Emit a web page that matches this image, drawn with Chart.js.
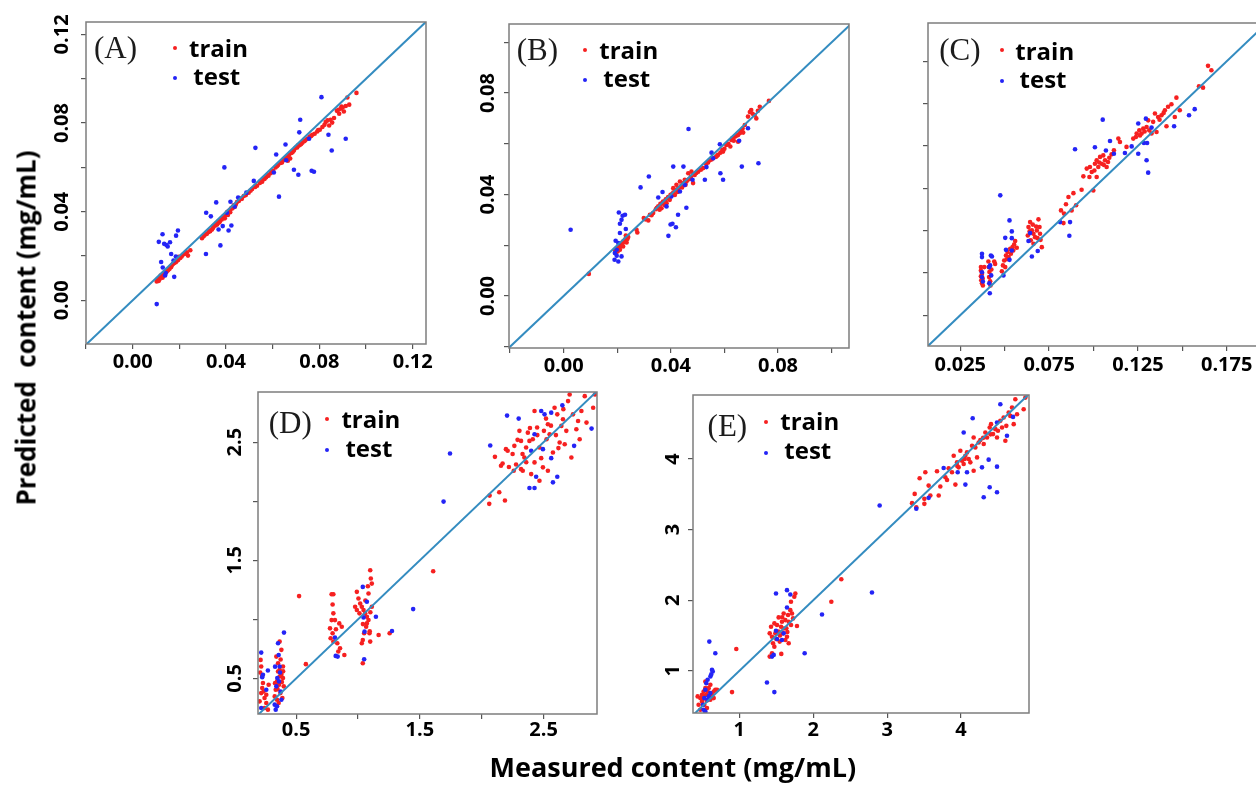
<!DOCTYPE html>
<html><head><meta charset="utf-8">
<script src="https://cdn.jsdelivr.net/npm/chart.js@4.4.1/dist/chart.umd.min.js"></script>
<style>
html,body{margin:0;padding:0;background:#fff}
body{width:1256px;height:787px;overflow:hidden;position:relative}
canvas{position:absolute}
.txt{position:absolute;white-space:pre;line-height:1;color:#000}
.plab{font-family:'Liberation Serif','Times New Roman',serif;font-size:31px;color:#1c1c1c}
.leg{font-family:'Open Sans',sans-serif;font-weight:700;font-size:24px}
.dot{position:absolute;width:4px;height:4px;border-radius:50%}
.title{font-family:'Open Sans',sans-serif;font-weight:700;font-size:26px}
#xtitle{font-size:27px}
</style></head><body>
<script>
// ---------------- data ----------------
const panelNames = ['(A)','(B)','(C)','(D)','(E)'];
const seriesNames = ['train','test'];
const xTitle = 'Measured content (mg/mL)';
const yTitle = 'Predicted  content (mg/mL)';

const xTicksA=[0,0.04,0.08,0.12], yTicksA=[0,0.04,0.08,0.12];
const xTicksB=[0,0.04,0.08], yTicksB=[0,0.04,0.08];
const xTicksC=[0.025,0.075,0.125,0.175], yTicksC=[];
const xTicksD=[0.5,1.5,2.5], yTicksD=[0.5,1.5,2.5];
const xTicksE=[1,2,3,4], yTicksE=[1,2,3,4];

const xRangeA=[-0.02,0.1257], yRangeA=[-0.0197,0.1256];
const xRangeB=[-0.0204,0.1065], yRangeB=[-0.0205,0.1072];
const xRangeC=[0.0068,0.1949], yRangeC=[0.0068,0.1976];
const xRangeD=[0.192,2.932], yRangeD=[0.199,2.925];
const xRangeE=[0.373,4.92], yRangeE=[0.403,4.907];

const trainA=[0.0103,0.0085,0.0115,0.0095,0.0125,0.0108,0.0135,0.0118,0.0146,0.013,0.0153,0.0138,0.0163,0.0153,0.0172,0.0164,0.0182,0.0176,0.0192,0.0186,0.0204,0.0191,0.0215,0.0206,0.0232,0.0217,0.0247,0.0226,0.0237,0.0202,
0.0108,0.0095,0.012,0.0112,0.0128,0.0102,0.014,0.0125,0.0158,0.0142,0.0168,0.0158,0.0178,0.0168,0.0188,0.0178,0.0198,0.0196,0.0112,0.0088,
0.0297,0.028,0.0311,0.0297,0.0325,0.0308,0.034,0.032,0.0347,0.0335,0.0358,0.0347,0.0368,0.0358,0.0378,0.0368,0.039,0.038,0.0401,0.0392,0.0411,0.0403,0.0421,0.0414,0.0433,0.0429,0.0447,0.0444,0.0462,0.0459,0.0476,0.0471,0.0497,0.0486,0.0512,0.0502,0.0533,0.0517,0.0555,0.0535,0.0572,0.0555,0.0591,0.0574,0.0612,0.06,0.0634,0.062,0.0655,0.0641,0.067,0.0656,0.0691,0.0676,0.0708,0.0698,0.0727,0.0711,0.0748,0.0729,0.077,0.0747,0.0791,0.0762,0.0813,0.0782,0.0827,0.0805,0.0842,0.0789,0.0863,0.0823,0.0885,0.0842,0.0892,0.0865,0.0913,0.0877,0.092,0.0915,0.0928,0.0883,0.0959,0.0936,
0.0362,0.0342,0.0372,0.0352,0.0385,0.0372,0.0395,0.0385,0.0405,0.0398,0.0415,0.0405,0.0425,0.0418,0.0395,0.037,0.0408,0.0385,0.0418,0.0398,0.0438,0.0422,0.0455,0.0448,0.0318,0.03,0.0332,0.0312,
0.0545,0.053,0.0565,0.0548,0.0582,0.0562,0.0602,0.0585,0.0622,0.061,0.0645,0.0632,0.066,0.0645,0.068,0.0665,0.0698,0.0688,0.0715,0.07,0.074,0.0722,0.0758,0.0738,0.078,0.0752,0.0802,0.077,0.0835,0.0812,0.0855,0.0802,0.0875,0.0855,0.09,0.087,0.0905,0.0852,0.0665,0.063,0.0675,0.064,
0.0118,0.0105,0.0132,0.0112,0.015,0.0135,0.0165,0.015,0.0185,0.0172,0.0195,0.0182,0.021,0.0198,0.0225,0.021,0.0305,0.029,0.0328,0.0315,0.0345,0.0328,0.0355,0.0338,0.0365,0.035,0.0375,0.036,0.0382,0.0365,0.0392,0.0378,0.0402,0.0388,0.0412,0.04,0.0428,0.0415,0.0442,0.0432,0.0468,0.0458,0.0485,0.0475,0.0505,0.0495,0.0525,0.0512,0.0548,0.0538,0.0562,0.055,0.0578,0.0566,0.0595,0.058,0.0618,0.0605,0.064,0.0622,0.0685,0.0668,0.0705,0.069,0.0722,0.0705,0.0735,0.0718,0.0765,0.0742,0.0795,0.0768,0.0822,0.0792,0.0848,0.0815,0.0882,0.086,0.0895,0.0875];
const testA=[0.0103,-0.0017,0.0112,0.0264,0.0128,0.0298,0.0135,0.0255,0.0145,0.025,0.016,0.0262,0.015,0.0243,0.0122,0.0173,0.0129,0.0148,0.0142,0.0123,0.0139,0.0112,0.0178,0.0106,0.0165,0.0209,0.0194,0.0315,0.0186,0.0292,0.0185,0.0198,0.0175,0.018,0.0314,0.0209,0.0315,0.0395,0.0335,0.0379,0.0358,0.0442,0.0393,0.06,0.0376,0.0248,0.0368,0.032,0.0386,0.0335,0.0411,0.0315,0.0423,0.0338,0.0419,0.0445,0.0404,0.0395,0.0437,0.0423,0.0452,0.0464,0.0487,0.0486,0.0519,0.0539,0.0526,0.0688,0.0605,0.0577,0.0615,0.0658,0.0627,0.0468,0.0655,0.0703,0.0658,0.0632,0.0691,0.0589,0.071,0.0567,0.0714,0.0758,0.0718,0.0815,0.0756,0.0729,0.0767,0.0585,0.0777,0.058,0.0839,0.0747,0.0853,0.0676,0.0809,0.0917,0.0913,0.0729];

const trainB=[0.0094,0.0087,0.0191,0.0182,0.0198,0.0189,0.0204,0.0195,0.021,0.0202,0.0216,0.0209,0.0222,0.0215,0.0229,0.0222,0.0235,0.0228,0.0241,0.0232,0.021,0.0182,0.0222,0.0195,0.0195,0.0169,0.0235,0.0211,0.0202,0.0176,0.0218,0.02,0.0232,0.0238,0.0272,0.0261,0.0275,0.025,0.0299,0.0307,0.0316,0.0298,0.0322,0.032,0.0334,0.0327,0.0344,0.0342,0.0353,0.0353,0.0361,0.0363,0.0371,0.0372,0.0381,0.0381,0.039,0.039,0.0399,0.0399,0.0409,0.0408,0.0419,0.0416,0.0429,0.0425,0.0439,0.0434,0.0448,0.0445,0.0458,0.0451,0.0468,0.046,0.0483,0.0445,0.0489,0.0477,0.0502,0.049,0.0521,0.0504,0.0539,0.0526,0.0558,0.0543,0.0576,0.0556,0.0595,0.0569,0.0607,0.0595,0.0626,0.0615,0.0639,0.0628,0.0651,0.0635,0.0663,0.0652,0.0676,0.0674,0.0688,0.0707,0.07,0.0733,0.0713,0.0713,0.0732,0.0746,0.0766,0.0769,0.0719,0.07,0.0622,0.0589,0.0651,0.0608,0.067,0.0644,0.0409,0.0425,0.0421,0.0438,0.0434,0.0451,0.0452,0.0458,0.0396,0.0379,0.0384,0.0366,0.0365,0.0346,0.0465,0.0484,0.0477,0.049,0.0415,0.0398,0.0425,0.041,0.0442,0.0428,0.0455,0.0438,0.0378,0.0358,0.0358,0.034,0.0545,0.0535,0.0568,0.0548,0.0585,0.0565,0.06,0.058,0.0615,0.06,0.0635,0.0612,0.0658,0.0642,0.0695,0.0725,
0.0205,0.0188,0.0212,0.0195,0.0225,0.0212,0.0238,0.0225,0.0305,0.0302,0.0328,0.0318,0.0348,0.0348,0.0368,0.0365,0.0388,0.0385,0.0405,0.0402,0.0422,0.042,0.0445,0.044,0.046,0.0455,0.0475,0.047,0.0495,0.0485,0.0512,0.0498,0.0532,0.052,0.0552,0.0538,0.0572,0.0552,0.0592,0.0575,0.0612,0.0598,0.063,0.0622,0.0645,0.0632,0.0668,0.066,0.0705,0.0718,0.0725,0.073];
const testB=[0.0026,0.0261,0.0206,0.0329,0.0216,0.03,0.021,0.0285,0.022,0.0316,0.0229,0.032,0.021,0.0248,0.0232,0.0264,0.0194,0.0218,0.0204,0.0209,0.0191,0.0169,0.0198,0.0159,0.0204,0.0136,0.019,0.0143,0.0216,0.0156,0.0198,0.0182,0.0287,0.0428,0.0318,0.0471,0.0353,0.0388,0.0369,0.041,0.0384,0.0353,0.0391,0.0237,0.0399,0.0282,0.0406,0.0285,0.0419,0.0271,0.0409,0.051,0.0427,0.032,0.0458,0.0348,0.0447,0.051,0.0466,0.0658,0.0402,0.0392,0.0434,0.0412,0.0452,0.0438,0.0481,0.0458,0.0527,0.0458,0.0533,0.0508,0.0552,0.0565,0.0558,0.0543,0.0585,0.0484,0.0595,0.0458,0.0583,0.0598,0.0655,0.0612,0.0665,0.051,0.0688,0.0661,0.0727,0.0523];

const trainC=[0.0366,0.0534,0.0366,0.0514,0.0372,0.0495,0.0366,0.048,0.0376,0.0466,0.0372,0.0439,0.0377,0.0425,0.0385,0.0534,0.0368,0.0456,
0.0408,0.0567,0.041,0.0534,0.0414,0.0505,0.0412,0.0475,0.0418,0.045,0.042,0.0425,0.0425,0.052,0.0441,0.0567,0.0446,0.0553,
0.049,0.0544,0.0497,0.0573,0.0507,0.0603,0.0516,0.0623,0.0531,0.0642,0.0544,0.0652,0.0553,0.0668,0.0559,0.0688,0.0568,0.0648,0.0522,0.0593,0.0535,0.0613,0.0503,0.0534,0.0484,0.051,0.0512,0.058,0.0548,0.0632,
0.0634,0.0771,0.0643,0.08,0.0653,0.0751,0.0662,0.0731,0.0671,0.0711,0.0681,0.0751,0.069,0.0816,0.0699,0.0731,0.0647,0.0692,0.063,0.0721,0.0662,0.0672,0.0709,0.0652,0.0677,0.0774,0.0696,0.0771,0.0658,0.0785,0.0685,0.0705,0.064,0.0745,0.0702,0.0695,
0.0817,0.0869,0.0834,0.085,0.0859,0.0948,0.0887,0.0971,0.0902,0.0899,0.0877,0.0869,0.0831,0.0794,0.0933,0.0991,0.0845,0.0905,
0.0943,0.107,0.0962,0.1116,0.0977,0.1066,0.099,0.1096,0.0999,0.0987,0.1008,0.1145,0.1018,0.1165,0.1027,0.1125,0.1037,0.1185,0.1046,0.1145,0.1055,0.1194,0.1065,0.1165,0.1074,0.1125,0.1089,0.118,0.1102,0.12,0.1115,0.1224,0.114,0.1293,0.1149,0.1273,0.1186,0.1244,0.1018,0.1066,0.098,0.1125,0.1005,0.1105,0.1032,0.1152,0.1058,0.1138,0.1082,0.1155,
0.1224,0.1293,0.1243,0.1323,0.1258,0.1342,0.1271,0.1323,0.128,0.1352,0.1299,0.1362,0.1314,0.1342,0.1336,0.1392,0.1346,0.1441,0.1364,0.1421,0.1383,0.1431,0.1402,0.1461,0.142,0.1481,0.1439,0.1496,0.1467,0.1535,0.1486,0.1461,0.1458,0.1421,0.1411,0.1366,0.1355,0.1332,0.1327,0.1323,0.1308,0.1401,0.1239,0.1303,0.1262,0.1312,0.1288,0.1335,0.1372,0.1405,0.1395,0.1445,
0.1594,0.1602,0.1617,0.1594,0.1645,0.1723,0.1664,0.1697];
const testC=[0.0372,0.0613,0.0372,0.0593,0.0372,0.0504,0.0372,0.0475,0.0377,0.0449,0.0413,0.0534,0.0418,0.0544,0.0422,0.0603,0.0424,0.0485,0.0413,0.0439,0.0416,0.038,0.0428,0.0597,0.0475,0.0958,0.0493,0.0485,0.0503,0.0707,0.0507,0.0636,0.0527,0.081,0.054,0.0745,0.054,0.0705,0.054,0.0632,0.0527,0.0577,0.0634,0.0688,0.0643,0.0735,0.0653,0.0597,0.0686,0.0629,0.0812,0.08,0.0868,0.08,0.0864,0.0719,0.0896,0.123,0.1008,0.1242,0.1052,0.1405,0.107,0.1223,0.1093,0.1279,0.1115,0.1204,0.1177,0.1208,0.1215,0.1247,0.1252,0.1382,0.1252,0.1204,0.1295,0.1411,0.1284,0.1267,0.1302,0.1267,0.1299,0.1165,0.1308,0.1092,0.1327,0.1358,0.1454,0.1366,0.1538,0.1431,0.157,0.1467];

const trainD=[0.213,0.657,0.218,0.601,0.232,0.461,0.218,0.376,0.245,0.334,0.237,0.39,0.259,0.292,0.245,0.25,0.272,0.236,0.226,0.419,0.259,0.362,0.205,0.306,0.278,0.447,0.21,0.55,0.225,0.52,
0.34,0.685,0.354,0.629,0.367,0.573,0.381,0.531,0.394,0.503,0.346,0.475,0.362,0.447,0.335,0.404,0.373,0.376,0.389,0.334,0.346,0.32,0.327,0.348,0.381,0.742,0.367,0.812,0.394,0.601,0.354,0.559,0.367,0.517,0.4,0.433,0.359,0.292,0.33,0.46,0.375,0.66,0.385,0.47,0.35,0.41,0.395,0.56,
0.524,1.197,0.579,0.621,
0.787,1.213,0.801,1.213,0.795,1.126,0.801,1.051,0.787,0.994,0.774,0.924,0.795,0.882,0.779,0.84,0.801,0.812,0.822,0.916,0.849,0.966,0.869,0.938,0.833,0.798,0.841,0.728,0.855,0.756,0.89,0.699,0.814,0.994,
0.991,1.233,1.004,1.177,1.018,1.135,1.031,1.107,1.045,1.079,1.058,1.051,1.072,1.022,1.085,0.994,1.066,0.938,1.05,0.882,1.039,0.826,1.031,0.798,1.039,0.629,1.099,0.812,1.104,1.346,1.099,1.416,1.112,1.303,1.085,1.219,1.112,1.107,0.991,1.079,0.977,1.107,1.093,0.882,1.072,0.966,1.012,1.051,1.167,0.868,1.256,0.882,1.06,1.16,1.08,1.28,1.1,1.06,1.04,0.96,1.095,0.9,
1.608,1.407,
2.061,1.978,2.064,2.048,2.188,2.006,2.142,2.076,2.107,2.376,2.156,2.301,2.169,2.32,2.196,2.441,2.21,2.427,2.259,2.258,2.264,2.469,2.278,2.311,2.305,2.596,2.318,2.511,2.332,2.258,2.345,2.371,2.359,2.455,2.373,2.581,2.386,2.511,2.4,2.23,2.413,2.525,2.427,2.764,2.448,2.624,2.467,2.455,2.481,2.365,2.503,2.596,2.524,2.525,2.535,2.652,2.549,2.567,2.576,2.413,2.589,2.792,2.611,2.736,2.63,2.497,2.644,2.638,2.657,2.694,2.671,2.483,2.684,2.596,2.698,2.848,2.711,2.904,2.725,2.371,2.738,2.736,2.765,2.61,2.779,2.68,2.792,2.525,2.806,2.764,2.833,2.89,2.847,2.666,2.901,2.792,2.915,2.904,2.467,2.174,2.427,2.329,2.318,2.272,2.535,2.258,2.495,2.287,2.22,2.29,2.25,2.4,2.29,2.52,2.33,2.4,2.36,2.33,2.39,2.62,2.45,2.56,2.52,2.7,2.56,2.64,2.6,2.56,2.62,2.45,2.66,2.78];
const testD=[0.218,0.719,0.232,0.531,0.226,0.511,0.259,0.404,0.272,0.567,0.218,0.25,0.335,0.236,0.346,0.264,0.327,0.278,0.354,0.798,0.359,0.699,0.367,0.601,0.348,0.503,0.34,0.433,0.375,0.39,0.381,0.32,0.402,0.888,0.362,0.475,0.37,0.55,0.33,0.6,0.814,0.846,0.82,0.691,0.836,0.685,1.039,1.275,1.045,1.017,1.053,0.896,1.072,1.149,1.145,1.022,1.05,0.663,1.275,0.902,1.446,1.087,1.692,1.997,1.744,2.404,2.069,2.472,2.205,2.725,2.299,2.7,2.386,2.112,2.4,2.427,2.427,2.112,2.44,2.208,2.427,2.567,2.481,2.764,2.508,2.736,2.495,2.441,2.562,2.75,2.562,2.365,2.576,2.16,2.611,2.208,2.652,2.812,2.747,2.469,2.888,2.615];

const trainE=[0.436,0.638,0.472,0.614,0.495,0.661,0.517,0.708,0.54,0.755,0.553,0.661,0.571,0.708,0.585,0.755,0.608,0.803,0.63,0.661,0.653,0.708,0.675,0.732,0.495,0.567,0.526,0.52,0.472,0.45,0.449,0.52,0.562,0.473,0.608,0.591,0.653,0.614,0.698,0.732,0.54,0.85,0.5,0.6,0.56,0.58,0.6,0.65,0.52,0.65,
0.901,0.699,0.959,1.31,
1.411,1.531,1.429,1.625,1.442,1.484,1.456,1.39,1.474,1.343,1.487,1.531,1.51,1.649,1.532,1.555,1.546,1.414,1.564,1.625,1.577,1.696,1.591,1.531,1.6,1.813,1.623,1.719,1.636,1.602,1.645,1.484,1.659,1.79,1.668,1.696,1.69,1.86,1.699,1.978,1.713,1.813,1.727,1.743,1.744,2.049,1.758,2.096,1.78,1.635,1.442,1.249,1.411,1.202,1.568,1.24,1.532,1.757,1.474,1.672,1.668,1.39,1.623,1.437,1.5,1.45,1.55,1.5,1.6,1.6,1.65,1.55,1.7,1.65,1.58,1.76,
2.245,1.978,2.38,2.298,
3.337,3.375,3.373,3.506,3.395,3.318,3.44,3.727,3.504,3.436,3.504,3.365,3.517,3.812,3.562,3.624,3.585,3.483,3.675,3.826,3.698,3.483,3.72,3.61,3.788,3.741,3.811,3.704,3.833,3.868,3.878,3.812,3.901,4.047,3.924,3.638,3.946,3.953,3.968,3.882,3.991,4.118,4.014,3.977,4.036,3.929,4.059,4.047,4.081,4.094,4.104,4.0,4.126,3.953,4.149,4.188,4.171,4.306,4.194,4.165,4.217,4.023,4.239,4.235,4.262,4.268,4.307,4.212,4.329,4.376,4.352,4.306,4.388,4.447,4.406,4.494,4.433,4.353,4.465,4.423,4.487,4.306,4.532,4.541,4.555,4.447,4.577,4.588,4.613,4.47,4.645,4.658,4.667,4.611,4.69,4.729,4.713,4.494,4.735,4.846,4.758,4.635,4.848,4.705,4.871,4.87,4.6,4.259,4.171,3.835,3.95,3.9,4.4,4.35,4.5,4.4,4.3,4.3,4.05,4.0];
const testE=[0.594,1.414,0.675,1.249,0.63,1.014,0.64,0.99,0.608,0.92,0.571,0.873,0.553,0.826,0.54,0.732,0.526,0.614,0.508,0.52,0.571,0.591,0.608,0.685,0.517,0.45,0.54,0.426,0.585,0.638,0.62,0.95,1.374,0.835,1.474,0.699,1.442,1.202,1.465,1.226,1.496,2.096,1.496,1.569,1.51,1.451,1.645,2.143,1.69,2.081,1.645,1.898,1.6,1.531,1.577,1.437,1.884,1.249,2.119,1.799,2.795,2.11,2.899,3.342,3.395,3.295,3.562,3.45,3.765,3.873,3.955,3.812,4.059,3.638,4.081,3.812,4.036,4.376,4.158,4.578,4.307,3.459,4.284,3.882,4.374,3.991,4.388,3.6,4.487,3.892,4.487,3.53,4.532,4.776,4.487,4.517,4.622,4.329,4.704,4.597];

// ---------------- layout (positions / styles) ----------------
const layout = {
  A:{box:[86,22,426,344], step:0.02, dec:2, yPad:-1, xPad:1, lab:[8,36.3],   d1:[89,25.7], d2:[89,55.7], t1:[103,35.3], t2:[107.3,63]},
  B:{box:[509,24,849,348], step:0.02, dec:2, yPad:-4, xPad:1, lab:[7.7,36],   d1:[76,26],   d2:[76,56],   t1:[90.3,35.3], t2:[94.3,63.3]},
  C:{box:[928,23,1262,346], step:0.025, dec:3, yPad:0, xPad:2, lab:[11.3,36.6], d1:[74,27.3], d2:[74,58.3], t1:[87.3,37.3], t2:[91.6,65.6]},
  D:{box:[258,392,597,714], step:0.5, dec:1, yPad:3,  xPad:-1, lab:[10.7,41],  d1:[69.4,27.3], d2:[69.4,57.6], t1:[83.4,36.6], t2:[87.4,65]},
  E:{box:[693,394,1029,713], step:1, dec:0, yPad:9,   xPad:0, lab:[14.6,42],  d1:[73,27.7], d2:[73,58.7], t1:[87.3,36.7], t2:[91.3,65]}
};
const RED='rgb(246,32,32)', BLUE='rgb(36,36,246)', LINE='rgb(52,140,192)', AXIS='#7d7d7d', TICK='#555';

const panels=[
  {key:'A',name:panelNames[0],train:trainA,test:testA,xr:xRangeA,yr:yRangeA,xt:xTicksA,yt:yTicksA},
  {key:'B',name:panelNames[1],train:trainB,test:testB,xr:xRangeB,yr:yRangeB,xt:xTicksB,yt:yTicksB},
  {key:'C',name:panelNames[2],train:trainC,test:testC,xr:xRangeC,yr:yRangeC,xt:xTicksC,yt:yTicksC},
  {key:'D',name:panelNames[3],train:trainD,test:testD,xr:xRangeD,yr:yRangeD,xt:xTicksD,yt:yTicksD},
  {key:'E',name:panelNames[4],train:trainE,test:testE,xr:xRangeE,yr:yRangeE,xt:xTicksE,yt:yTicksE}
];

function pts(a){const o=[];for(let i=0;i+1<a.length;i+=2)o.push({x:a[i],y:a[i+1]});return o;}
function tickText(v,list,dec){return list.some(t=>Math.abs(t-v)<1e-6)?Number(v).toFixed(dec):'';}
function addText(cls,txt,left,top){const d=document.createElement('div');d.className='txt '+cls;d.textContent=txt;d.style.left=left+'px';d.style.top=top+'px';document.body.appendChild(d);return d;}
function addDot(color,cx,cy){const d=document.createElement('div');d.className='dot';d.style.background=color;d.style.left=(cx-2)+'px';d.style.top=(cy-2)+'px';document.body.appendChild(d);}

const boxPlugin={id:'box',afterDatasetsDraw(c){const a=c.chartArea,x=c.ctx;x.save();x.strokeStyle=AXIS;x.lineWidth=1.5;x.strokeRect(a.left,a.top,a.right-a.left,a.bottom-a.top);x.restore();}};

const PL=60,PT=20,PR=20,PB=40;
const tickFont={family:"'Open Sans', sans-serif",size:20,weight:'bold'};

panels.forEach(p=>{
  const L=layout[p.key];
  const [bl,bt,br,bb]=L.box;
  const W=(br-bl)+PL+PR, H=(bb-bt)+PT+PB;
  const cv=document.createElement('canvas');
  cv.width=W;cv.height=H;cv.style.width=W+'px';cv.style.height=H+'px';
  cv.style.left=(bl-PL)+'px';cv.style.top=(bt-PT)+'px';
  document.body.appendChild(cv);
  const lo=Math.min(p.xr[0],p.yr[0]), hi=Math.max(p.xr[1],p.yr[1]);
  new Chart(cv.getContext('2d'),{
    type:'scatter',
    data:{datasets:[
      {label:'1:1',data:[{x:lo,y:lo},{x:hi,y:hi}],showLine:true,borderColor:LINE,borderWidth:2,pointRadius:0,order:0,clip:0},
      {label:seriesNames[1],data:pts(p.test),backgroundColor:BLUE,pointRadius:2.3,borderWidth:0,order:1},
      {label:seriesNames[0],data:pts(p.train),backgroundColor:RED,pointRadius:2.3,borderWidth:0,order:2}
    ]},
    options:{
      responsive:false,animation:false,devicePixelRatio:1,
      layout:{padding:{left:0,top:PT,right:PR,bottom:0}},
      plugins:{legend:{display:false},tooltip:{enabled:false}},
      scales:{
        x:{type:'linear',position:'bottom',min:p.xr[0],max:p.xr[1],
          border:{display:false},
          grid:{display:true,drawOnChartArea:false,drawTicks:true,tickLength:5,color:TICK,lineWidth:1.2},
          ticks:{stepSize:L.step,includeBounds:false,autoSkip:false,maxRotation:0,minRotation:0,padding:L.xPad,color:'#000',font:tickFont,
            callback:(v)=>tickText(v,p.xt,L.dec)},
          afterFit:(s)=>{s.height=PB;}},
        y:{type:'linear',position:'left',min:p.yr[0],max:p.yr[1],
          border:{display:false},
          grid:{display:true,drawOnChartArea:false,drawTicks:true,tickLength:5,color:TICK,lineWidth:1.2},
          ticks:{stepSize:L.step,includeBounds:false,autoSkip:false,minRotation:90,maxRotation:90,crossAlign:'center',padding:L.yPad,color:'#000',font:tickFont,
            callback:(v)=>tickText(v,p.yt,L.dec)},
          afterFit:(s)=>{s.width=PL;}}
      }
    },
    plugins:[boxPlugin]
  });
  // panel label & legend (HTML text)
  addText('plab',p.name,bl+L.lab[0],bt+L.lab[1]-26);
  addDot(RED,bl+L.d1[0],bt+L.d1[1]);
  addDot(BLUE,bl+L.d2[0],bt+L.d2[1]);
  addText('leg',seriesNames[0],bl+L.t1[0],bt+L.t1[1]-21.3);
  addText('leg',seriesNames[1],bl+L.t2[0],bt+L.t2[1]-21.3);
});

// axis titles
const xt=addText('title',xTitle,0,0);
xt.id='xtitle';
xt.style.left=(673-xt.offsetWidth/2)+'px';xt.style.top=(776.7-24)+'px';
const yt=addText('title',yTitle,0,0);
yt.style.left=(25-yt.offsetWidth/2)+'px';yt.style.top=(327.5-13)+'px';
yt.style.transform='rotate(-90deg)';
</script>
</body></html>
